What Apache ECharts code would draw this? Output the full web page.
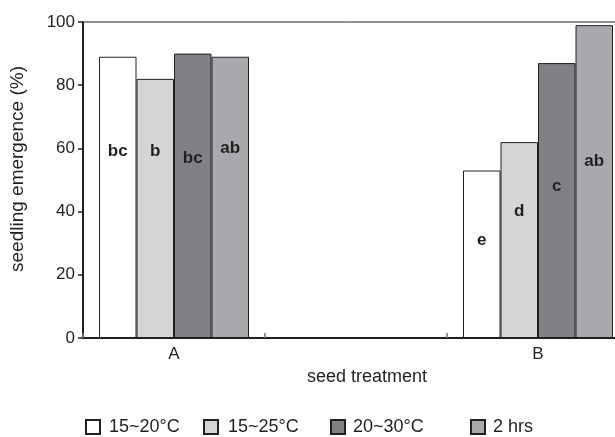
<!DOCTYPE html>
<html>
<head>
<meta charset="utf-8">
<script src="https://cdn.jsdelivr.net/npm/echarts@6/dist/echarts.min.js"></script>
<style>html,body{margin:0;padding:0;background:#fff;}#c{width:615px;height:437px;}</style>
</head>
<body>
<div id="c"></div>
<script>
var categories = ['A', '', 'B'];
var seriesNames = ['15~20°C', '15~25°C', '20~30°C', '2 hrs'];
var s1520 = [89, null, 53];
var s1525 = [82, null, 62];
var s2030 = [90, null, 87];
var s2hrs = [89, null, 99];
var letters1520 = ['bc', '', 'e'];
var letters1525 = ['b', '', 'd'];
var letters2030 = ['bc', '', 'c'];
var letters2hrs = ['ab', '', 'ab'];
var letterPos1520 = [59, null, 31];
var letterPos1525 = [59, null, 40];
var letterPos2030 = [57, null, 48];
var letterPos2hrs = [60, null, 56];
var yTicks = [0, 20, 40, 60, 80, 100];

var colors = ['#ffffff', '#d4d5d7', '#808184', '#a8a9ac'];
var ink = '#231f20';
var FONT = '"Liberation Sans", Arial, sans-serif';
var values = [s1520, s1525, s2030, s2hrs];
var letters = [letters1520, letters1525, letters2030, letters2hrs];
var letterPos = [letterPos1520, letterPos1525, letterPos2030, letterPos2hrs];

var series = [];
values.forEach(function (v, i) {
  series.push({
    name: seriesNames[i], type: 'bar', xAxisIndex: 0,
    barWidth: 37.5, barGap: '0%',
    itemStyle: { color: colors[i], borderColor: ink, borderWidth: 1 },
    data: v, z: 2
  });
});
letterPos.forEach(function (v, i) {
  series.push({
    name: 'lab' + i, type: 'bar', xAxisIndex: 1,
    barWidth: 37.5, barGap: '0%', silent: true,
    itemStyle: { color: 'rgba(0,0,0,0)', borderWidth: 0 },
    label: {
      show: true, position: 'top', distance: 0, verticalAlign: 'middle',
      fontFamily: FONT, fontSize: 17, fontWeight: 'bold', color: ink,
      formatter: function (p) { return letters[i][p.dataIndex] || ''; }
    },
    data: v, z: 5
  });
});

var legendLefts = [80, 198, 325, 465];
var legendPads = [4, 5, 3, 3];
var legends = seriesNames.map(function (n, i) {
  return {
    data: [n], left: legendLefts[i], top: 413, icon: 'rect',
    itemWidth: 14, itemHeight: 14,
    textStyle: { fontFamily: FONT, fontSize: 18, color: ink, padding: [0, 0, 0, legendPads[i]] },
    selectedMode: false
  };
});

var chart = echarts.init(document.getElementById('c'), null, { renderer: 'canvas' });
chart.setOption({
  animation: false,
  backgroundColor: '#ffffff',
  legend: legends,
  grid: { left: 83, top: 22, width: 546, height: 316, outerBoundsMode: 'none', containLabel: false,
    show: true, borderColor: ink, borderWidth: 1, backgroundColor: 'transparent' },
  xAxis: [{
    type: 'category', data: categories,
    axisLine: { lineStyle: { color: ink, width: 2 } },
    axisTick: { show: true, inside: true, length: 5, lineStyle: { color: '#777', width: 1.5 } },
    axisLabel: { fontFamily: FONT, fontSize: 17, color: ink, margin: 8 },
    name: 'seed treatment', nameLocation: 'middle', nameGap: 20,
    nameTextStyle: { fontFamily: FONT, fontSize: 18, color: ink, padding: [0, 0, 0, 22] }
  }, {
    type: 'category', data: categories, show: false
  }],
  yAxis: {
    type: 'value', min: 0, max: 100, interval: 20,
    axisLine: { show: true, lineStyle: { color: ink, width: 2 } },
    axisTick: { show: true, length: 5, lineStyle: { color: ink, width: 1.5 } },
    axisLabel: { fontFamily: FONT, fontSize: 17, color: ink, margin: 8,
      formatter: function (v) { return yTicks.indexOf(v) >= 0 ? String(v) : ''; } },
    splitLine: { show: false },
    name: 'seedling emergence (%)', nameLocation: 'middle', nameGap: 56,
    nameTextStyle: { fontFamily: FONT, fontSize: 19, color: ink, padding: [0, 0, 0, 22] }
  },
  series: series
});
</script>
</body>
</html>
